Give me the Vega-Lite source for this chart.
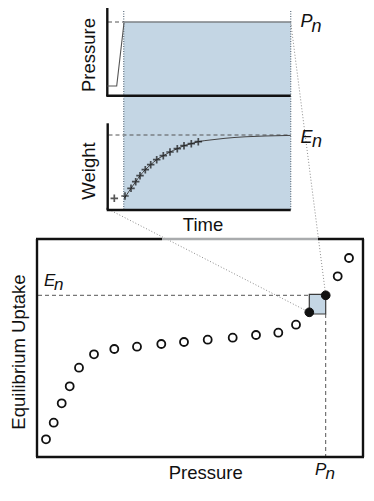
{
  "$schema": "https://vega.github.io/schema/vega-lite/v6.json",
  "width": 374,
  "height": 501,
  "padding": 0,
  "autosize": {"type": "fit", "contains": "padding"},
  "background": "white",
  "config": {"view": {"stroke": null}},
  "datasets": {
    "zones": [
      {"kind": "zoom", "x": 123.7, "x2": 290.7, "y": 22, "y2": 210},
      {"kind": "box", "x": 309.3, "x2": 325.7, "y": 294.3, "y2": 314}
    ],
    "segments": [
      {"kind": "axis", "x": 107.3, "y": 8, "x2": 107.3, "y2": 96},
      {"kind": "axis", "x": 106.3, "y": 95.7, "x2": 290.7, "y2": 95.7},
      {"kind": "axis", "x": 107.7, "y": 123.3, "x2": 107.7, "y2": 210},
      {"kind": "axis", "x": 106.7, "y": 210, "x2": 290.7, "y2": 210},
      {"kind": "axis", "x": 37, "y": 239, "x2": 37, "y2": 457},
      {"kind": "axis", "x": 363, "y": 239, "x2": 363, "y2": 457},
      {"kind": "axis", "x": 36, "y": 457, "x2": 364, "y2": 457},
      {"kind": "axis", "x": 36, "y": 239, "x2": 162, "y2": 239},
      {"kind": "axis", "x": 318, "y": 239, "x2": 364, "y2": 239},
      {"kind": "pale", "x": 162, "y": 239, "x2": 318, "y2": 239},
      {"kind": "level", "x": 124, "y": 22, "x2": 290.7, "y2": 22},
      {"kind": "dash", "x": 108, "y": 22, "x2": 124, "y2": 22},
      {"kind": "dash", "x": 108.5, "y": 135, "x2": 290.7, "y2": 135},
      {"kind": "dash", "x": 38, "y": 295.3, "x2": 309.3, "y2": 295.3},
      {"kind": "dash", "x": 325.7, "y": 314, "x2": 325.7, "y2": 456},
      {"kind": "vdot", "x": 123.7, "y": 11, "x2": 123.7, "y2": 210},
      {"kind": "vdot", "x": 290.7, "y": 11, "x2": 290.7, "y2": 210},
      {"kind": "dot", "x": 106, "y": 208, "x2": 309.3, "y2": 312.3},
      {"kind": "dot", "x": 290.7, "y": 22, "x2": 325.7, "y2": 295.3}
    ],
    "pressure": [
      {"i": 1, "t": 107.3, "p": 86},
      {"i": 2, "t": 116.7, "p": 86},
      {"i": 3, "t": 124, "p": 22.7}
    ],
    "curve": [
      {"i": 1, "t": 124.5, "w": 198},
      {"i": 2, "t": 131, "w": 188.3},
      {"i": 3, "t": 135.7, "w": 181.7},
      {"i": 4, "t": 140, "w": 175.7},
      {"i": 5, "t": 145.3, "w": 169.7},
      {"i": 6, "t": 150.7, "w": 164.7},
      {"i": 7, "t": 156.7, "w": 159.7},
      {"i": 8, "t": 163.3, "w": 155.7},
      {"i": 9, "t": 170, "w": 152},
      {"i": 10, "t": 177.3, "w": 148.7},
      {"i": 11, "t": 184, "w": 145.7},
      {"i": 12, "t": 191.3, "w": 143.7},
      {"i": 13, "t": 198.3, "w": 141.7},
      {"i": 14, "t": 210, "w": 140},
      {"i": 15, "t": 225, "w": 138.3},
      {"i": 16, "t": 245, "w": 136.8},
      {"i": 17, "t": 265, "w": 136},
      {"i": 18, "t": 290.7, "w": 135.4}
    ],
    "weight": [
      {"t": 114.3, "w": 198.3},
      {"t": 125, "w": 196},
      {"t": 131, "w": 188.3},
      {"t": 135.7, "w": 181.7},
      {"t": 140, "w": 175.7},
      {"t": 145.3, "w": 169.7},
      {"t": 150.7, "w": 164.7},
      {"t": 156.7, "w": 159.7},
      {"t": 163.3, "w": 155.7},
      {"t": 170, "w": 152},
      {"t": 177.3, "w": 148.7},
      {"t": 184, "w": 145.7},
      {"t": 191.3, "w": 143.7},
      {"t": 198.3, "w": 141.7}
    ],
    "isotherm": [
      {"pressure": 46, "uptake": 439.3, "state": "open"},
      {"pressure": 53.7, "uptake": 422.7, "state": "open"},
      {"pressure": 61.7, "uptake": 403.3, "state": "open"},
      {"pressure": 69.7, "uptake": 386.3, "state": "open"},
      {"pressure": 79, "uptake": 367.7, "state": "open"},
      {"pressure": 94, "uptake": 354.3, "state": "open"},
      {"pressure": 114.3, "uptake": 349, "state": "open"},
      {"pressure": 137, "uptake": 346.7, "state": "open"},
      {"pressure": 161.3, "uptake": 344, "state": "open"},
      {"pressure": 184, "uptake": 342, "state": "open"},
      {"pressure": 207.7, "uptake": 339.7, "state": "open"},
      {"pressure": 232.7, "uptake": 337.7, "state": "open"},
      {"pressure": 256, "uptake": 335, "state": "open"},
      {"pressure": 278.3, "uptake": 332.7, "state": "open"},
      {"pressure": 296, "uptake": 324.7, "state": "open"},
      {"pressure": 309.3, "uptake": 312.3, "state": "filled"},
      {"pressure": 325.7, "uptake": 295.3, "state": "filled"},
      {"pressure": 337.7, "uptake": 276.3, "state": "open"},
      {"pressure": 349, "uptake": 258, "state": "open"}
    ],
    "titles": [
      {"text": "Pressure", "x": 89, "y": 55, "dir": "up"},
      {"text": "Weight", "x": 89, "y": 171, "dir": "up"},
      {"text": "Equilibrium Uptake", "x": 18.5, "y": 352, "dir": "up"},
      {"text": "Time", "x": 203, "y": 225, "dir": "flat"},
      {"text": "Pressure", "x": 205.7, "y": 473, "dir": "flat"}
    ],
    "symbols": [
      {"text": "P", "x": 300.5, "y": 21.5, "part": "main", "panel": "top"},
      {"text": "n", "x": 311.5, "y": 27, "part": "sub", "panel": "top"},
      {"text": "E", "x": 300.5, "y": 138.3, "part": "main", "panel": "top"},
      {"text": "n", "x": 312, "y": 142, "part": "sub", "panel": "top"},
      {"text": "E", "x": 44, "y": 280.7, "part": "main", "panel": "bottom"},
      {"text": "n", "x": 54, "y": 284.7, "part": "sub", "panel": "bottom"},
      {"text": "P", "x": 315, "y": 470, "part": "main", "panel": "bottom"},
      {"text": "n", "x": 325.5, "y": 473.5, "part": "sub", "panel": "bottom"}
    ]
  },
  "layer": [
    {
      "data": {"name": "zones"},
      "transform": [{"filter": "datum.kind === 'zoom'"}],
      "mark": {"type": "rect", "fill": "#c4d6e4", "stroke": null},
      "encoding": {
        "x": {"field": "x", "type": "quantitative", "scale": {"domain": [0, 374], "nice": false, "zero": false}, "axis": null},
        "x2": {"field": "x2"},
        "y": {"field": "y", "type": "quantitative", "scale": {"domain": [0, 501], "nice": false, "zero": false, "reverse": true}, "axis": null},
        "y2": {"field": "y2"}
      }
    },
    {
      "data": {"name": "zones"},
      "transform": [{"filter": "datum.kind === 'box'"}],
      "mark": {"type": "rect", "fill": "#c4d6e4", "stroke": "#3a3a3a", "strokeWidth": 1.2},
      "encoding": {
        "x": {"field": "x", "type": "quantitative"},
        "x2": {"field": "x2"},
        "y": {"field": "y", "type": "quantitative"},
        "y2": {"field": "y2"}
      }
    },
    {
      "data": {"name": "segments"},
      "transform": [{"filter": "datum.kind === 'vdot'"}],
      "mark": {"type": "rule", "stroke": "#6a7a88", "strokeWidth": 1.3, "strokeDash": [1, 1.5]},
      "encoding": {
        "x": {"field": "x", "type": "quantitative"}, "x2": {"field": "x2"},
        "y": {"field": "y", "type": "quantitative"}, "y2": {"field": "y2"}
      }
    },
    {
      "data": {"name": "segments"},
      "transform": [{"filter": "datum.kind === 'dot'"}],
      "mark": {"type": "rule", "stroke": "#8c8c8c", "strokeWidth": 1, "strokeDash": [1, 2]},
      "encoding": {
        "x": {"field": "x", "type": "quantitative"}, "x2": {"field": "x2"},
        "y": {"field": "y", "type": "quantitative"}, "y2": {"field": "y2"}
      }
    },
    {
      "data": {"name": "segments"},
      "transform": [{"filter": "datum.kind === 'dash'"}],
      "mark": {"type": "rule", "stroke": "#555555", "strokeWidth": 1, "strokeDash": [4, 3]},
      "encoding": {
        "x": {"field": "x", "type": "quantitative"}, "x2": {"field": "x2"},
        "y": {"field": "y", "type": "quantitative"}, "y2": {"field": "y2"}
      }
    },
    {
      "data": {"name": "segments"},
      "transform": [{"filter": "datum.kind === 'level'"}],
      "mark": {"type": "rule", "stroke": "#7d8185", "strokeWidth": 1.3},
      "encoding": {
        "x": {"field": "x", "type": "quantitative"}, "x2": {"field": "x2"},
        "y": {"field": "y", "type": "quantitative"}, "y2": {"field": "y2"}
      }
    },
    {
      "data": {"name": "segments"},
      "transform": [{"filter": "datum.kind === 'pale'"}],
      "mark": {"type": "rule", "stroke": "#a9abad", "strokeWidth": 2.4},
      "encoding": {
        "x": {"field": "x", "type": "quantitative"}, "x2": {"field": "x2"},
        "y": {"field": "y", "type": "quantitative"}, "y2": {"field": "y2"}
      }
    },
    {
      "data": {"name": "segments"},
      "transform": [{"filter": "datum.kind === 'axis'"}],
      "mark": {"type": "rule", "stroke": "#111111", "strokeWidth": 2.4},
      "encoding": {
        "x": {"field": "x", "type": "quantitative"}, "x2": {"field": "x2"},
        "y": {"field": "y", "type": "quantitative"}, "y2": {"field": "y2"}
      }
    },
    {
      "data": {"name": "pressure"},
      "mark": {"type": "line", "stroke": "#555555", "strokeWidth": 1.1},
      "encoding": {
        "x": {"field": "t", "type": "quantitative"},
        "y": {"field": "p", "type": "quantitative"},
        "order": {"field": "i", "type": "quantitative"}
      }
    },
    {
      "data": {"name": "curve"},
      "mark": {"type": "line", "stroke": "#444444", "strokeWidth": 1, "interpolate": "monotone"},
      "encoding": {
        "x": {"field": "t", "type": "quantitative"},
        "y": {"field": "w", "type": "quantitative"},
        "order": {"field": "i", "type": "quantitative"}
      }
    },
    {
      "data": {"name": "weight"},
      "mark": {"type": "point", "shape": "M-1,0H1M0,-1V1", "size": 56, "filled": false, "stroke": "#111111", "strokeWidth": 1.7},
      "encoding": {
        "x": {"field": "t", "type": "quantitative"},
        "y": {"field": "w", "type": "quantitative"}
      }
    },
    {
      "data": {"name": "isotherm"},
      "transform": [{"filter": "datum.state === 'open'"}],
      "mark": {"type": "point", "shape": "circle", "size": 64, "filled": false, "fill": "white", "stroke": "#111111", "strokeWidth": 1.8, "opacity": 1},
      "encoding": {
        "x": {"field": "pressure", "type": "quantitative"},
        "y": {"field": "uptake", "type": "quantitative"}
      }
    },
    {
      "data": {"name": "isotherm"},
      "transform": [{"filter": "datum.state === 'filled'"}],
      "mark": {"type": "point", "shape": "circle", "size": 76, "filled": true, "fill": "#111111", "stroke": "#111111", "strokeWidth": 1, "opacity": 1},
      "encoding": {
        "x": {"field": "pressure", "type": "quantitative"},
        "y": {"field": "uptake", "type": "quantitative"}
      }
    },
    {
      "data": {"name": "titles"},
      "transform": [{"filter": "datum.dir === 'up'"}],
      "mark": {"type": "text", "font": "Liberation Sans", "fontSize": 18.5, "angle": 270, "align": "center", "baseline": "middle", "color": "#111111"},
      "encoding": {
        "x": {"field": "x", "type": "quantitative"},
        "y": {"field": "y", "type": "quantitative"},
        "text": {"field": "text"}
      }
    },
    {
      "data": {"name": "titles"},
      "transform": [{"filter": "datum.dir === 'flat'"}],
      "mark": {"type": "text", "font": "Liberation Sans", "fontSize": 18.5, "align": "center", "baseline": "middle", "color": "#111111"},
      "encoding": {
        "x": {"field": "x", "type": "quantitative"},
        "y": {"field": "y", "type": "quantitative"},
        "text": {"field": "text"}
      }
    },
    {
      "data": {"name": "symbols"},
      "transform": [{"filter": "datum.panel === 'top'"}],
      "mark": {"type": "text", "font": "Liberation Sans", "fontStyle": "italic", "fontSize": 18, "align": "left", "baseline": "middle", "color": "#111111"},
      "encoding": {
        "x": {"field": "x", "type": "quantitative"},
        "y": {"field": "y", "type": "quantitative"},
        "text": {"field": "text"}
      }
    },
    {
      "data": {"name": "symbols"},
      "transform": [{"filter": "datum.panel === 'bottom'"}],
      "mark": {"type": "text", "font": "Liberation Sans", "fontStyle": "italic", "fontSize": 17, "align": "left", "baseline": "middle", "color": "#111111"},
      "encoding": {
        "x": {"field": "x", "type": "quantitative"},
        "y": {"field": "y", "type": "quantitative"},
        "text": {"field": "text"}
      }
    }
  ]
}
